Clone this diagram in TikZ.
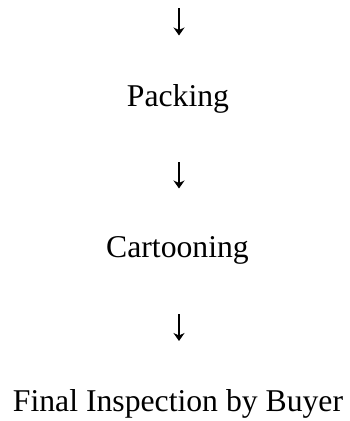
\documentclass[tikz,border=0pt]{standalone}
\usepackage{fontspec}
\setmainfont{Liberation Serif}
\usetikzlibrary{arrows.meta}
\begin{document}
\begin{tikzpicture}[x=1pt,y=-1pt,
  label/.style={font=\fontsize{31.7}{36}\selectfont, inner sep=0pt, anchor=base},
  flow/.style={line width=1.3pt, -{Stealth[length=8pt,width=11pt,inset=2.5pt]}}]
\useasboundingbox (0,0) rectangle (349,421);
\node[label] (packing) at (178,106) {Packing};
\node[label] (cartooning) at (177.5,257) {Cartooning};
\node[label] (final) at (178,411) {Final Inspection by Buyer};
\coordinate (top) at (179,8);
\coordinate (a1) at (179,35.5);
\coordinate (p2) at (179,162);
\coordinate (a2) at (179,188.5);
\coordinate (c3) at (179,314);
\coordinate (a3) at (179,341);
\draw[flow] (top) -- (a1);
\draw[flow] (p2) -- (a2);
\draw[flow] (c3) -- (a3);
\end{tikzpicture}
\end{document}
